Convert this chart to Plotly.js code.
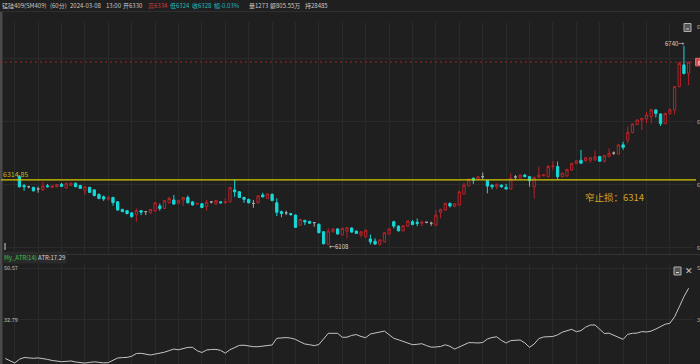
<!DOCTYPE html>
<html><head><meta charset="utf-8">
<script src="https://cdn.plot.ly/plotly-3.0.1.min.js"></script>
<style>html,body{margin:0;padding:0;background:#1f1f1f;overflow:hidden}#chart{width:700px;height:364px}</style>
</head><body><div id="chart"></div>
<script>
// ---- data (60-min bars, index 0..143) ----
const openP = [
6325,6297,6293,6291,6286,6283,6296,6291,6293,6301,
6289,6297,6304,6297,6280,6291,6283,6269,6261,6254,
6259,6245,6221,6217,6210,6205,6217,6214,6210,6216,
6232,6224,6242,6251,6240,6251,6259,6245,6238,6239,
6230,6245,6238,6245,6242,6245,6283,6277,6259,6253,
6240,6242,6267,6256,6269,6242,6214,6210,6208,6203,
6171,6186,6183,6179,6174,6150,6110,6150,6159,6140,
6152,6162,6152,6140,6134,6127,6120,6109,6118,6143,
6182,6168,6153,6168,6182,6180,6177,6180,6177,6171,
6212,6219,6240,6230,6235,6270,6296,6320,6317,6325,
6312,6298,6293,6298,6291,6286,6324,6320,6330,6325,
6293,6323,6328,6325,6357,6357,6325,6327,6346,6367,
6377,6376,6377,6378,6389,6374,6389,6400,6397,6426,
6441,6465,6491,6505,6508,6516,6537,6524,6494,6526,
6537,6611,6680,6653];
const highP = [
6330,6302,6296,6293,6293,6309,6302,6298,6302,6305,
6306,6306,6306,6299,6295,6293,6285,6271,6265,6263,
6261,6247,6223,6219,6212,6224,6219,6216,6223,6245,
6240,6251,6261,6267,6251,6261,6265,6247,6242,6241,
6251,6246,6251,6247,6256,6293,6317,6279,6261,6255,
6251,6266,6274,6272,6271,6256,6217,6217,6210,6205,
6191,6188,6185,6181,6176,6152,6161,6161,6161,6163,
6165,6164,6154,6152,6157,6141,6129,6126,6149,6161,
6185,6170,6171,6186,6187,6192,6183,6182,6182,6219,
6223,6243,6243,6241,6279,6306,6319,6322,6327,6338,
6314,6300,6303,6300,6302,6336,6330,6332,6334,6327,
6325,6357,6333,6363,6375,6373,6338,6350,6369,6377,
6410,6387,6388,6408,6391,6394,6415,6405,6428,6436,
6484,6494,6507,6512,6531,6542,6539,6526,6528,6542,
6613,6690,6740,6690];
const lowP = [
6290,6280,6288,6278,6274,6280,6291,6289,6291,6292,
6287,6295,6292,6286,6267,6273,6262,6253,6248,6249,
6233,6217,6212,6205,6195,6182,6203,6203,6208,6214,
6217,6222,6240,6236,6238,6232,6240,6233,6236,6225,
6217,6240,6236,6240,6240,6243,6261,6257,6242,6240,
6226,6240,6259,6254,6247,6200,6196,6203,6200,6162,
6169,6171,6175,6166,6145,6110,6108,6148,6141,6138,
6129,6147,6143,6132,6132,6110,6109,6109,6116,6141,
6161,6151,6151,6166,6171,6168,6168,6177,6169,6169,
6193,6217,6227,6228,6233,6268,6294,6302,6315,6317,
6272,6285,6285,6290,6284,6284,6314,6318,6323,6293,
6256,6321,6326,6323,6346,6317,6323,6325,6344,6365,
6366,6372,6370,6376,6372,6370,6387,6394,6395,6410,
6431,6463,6489,6473,6494,6494,6513,6486,6492,6521,
6523,6609,6650,6616];
const closeP = [
6293,6293,6293,6280,6286,6295,6293,6296,6300,6294,
6304,6304,6293,6288,6293,6275,6265,6256,6254,6258,
6243,6219,6214,6208,6198,6217,6212,6214,6221,6242,
6224,6249,6256,6238,6249,6259,6242,6235,6240,6227,
6244,6245,6249,6242,6245,6291,6277,6259,6253,6242,
6240,6264,6261,6270,6249,6212,6208,6210,6205,6164,
6189,6181,6177,6179,6147,6112,6152,6159,6143,6161,
6163,6149,6145,6150,6155,6118,6111,6124,6147,6159,
6168,6153,6169,6184,6173,6177,6181,6180,6177,6203,
6221,6240,6232,6239,6277,6298,6317,6314,6325,6325,
6295,6293,6301,6293,6286,6320,6324,6330,6325,6312,
6323,6330,6331,6357,6359,6325,6336,6348,6367,6375,
6368,6385,6385,6388,6374,6392,6399,6400,6426,6418,
6465,6492,6505,6510,6521,6537,6526,6494,6526,6537,
6611,6685,6653,6689];
// My_ATR(14), starting 3 bars before the first visible candle
const atrStart = -3;
const atr = [
19.62,18.94,18.08,
19.35,19.96,19.83,19.69,19.83,19.69,19.32,18.94,18.77,18.53,
18.63,18.77,18.43,18.19,18.05,18.29,18.49,18.32,18.12,18.22,
18.87,19.79,19.93,20.00,20.38,21.33,21.40,21.16,20.82,21.13,
21.37,21.78,22.32,22.84,22.60,22.91,23.42,23.45,22.26,21.67,
22.53,22.70,22.74,22.39,21.44,22.63,23.49,24.10,24.17,23.80,
23.66,23.66,23.90,24.24,24.24,26.53,26.77,26.77,26.60,26.16,
25.33,24.58,24.34,24.03,24.41,26.19,28.24,28.24,28.24,26.87,
26.91,27.52,27.80,27.15,26.74,28.00,28.34,28.62,28.99,27.76,
26.53,26.02,25.54,24.92,24.34,24.48,24.68,24.03,23.49,23.56,
23.73,24.31,23.80,22.84,23.56,24.51,25.03,25.03,24.92,25.09,
26.29,26.80,27.04,25.81,24.92,25.74,25.95,25.95,24.96,23.45,
24.58,26.43,26.98,27.15,27.15,27.69,28.62,29.10,29.61,28.79,
29.16,30.36,31.08,31.08,29.47,28.17,28.28,27.52,27.01,26.16,
27.90,28.24,28.31,28.82,28.69,28.99,29.71,30.40,31.35,31.66,
33.88,37.27,40.76,43.63];
const stopLevel = 6314.85;
const stopText = '窄止损：6314';
const highMark = 6740, lowMark = 6108;
const priceTickVals = [6100, 6300, 6500, 6700];
// only the first glyph of the right-hand price scale is visible in the window
const priceLabelVals = [6800, 6500, 6300, 6100];
const atrTickVals = [32.79, 50.57];
const atrTickText = ['32.79', '50.57'];
const header = [
  ['锰硅409(SM409)', 0.5, 'n'], ['(60分)', 49, 'n'], ['2024-03-08', 69, 'n'], ['13:00', 105, 'n'],
  ['开6330', 122, 'n'], ['高6334', 147, 'r'], ['低6324', 169, 'c'], ['收6328', 191, 'c'],
  ['幅-0.03%', 213, 'c'], ['量1273', 248, 'n'], ['额805.55万', 269, 'n'], ['持28485', 304, 'n']
];

// ---- build ----
const W = 700, H = 364;
const BG = '#1f1f1f', GRID = '#2a2a2a';
const px = v => v / W, py = v => (H - v) / H;
const FONT = '"Noto Sans CJK SC", "Noto Sans", sans-serif';
const idx = closeP.map((_, i) => i);
function sub(cond) {
  const ii = idx.filter(cond);
  return {x: ii, open: ii.map(i => openP[i]), high: ii.map(i => highP[i]),
          low: ii.map(i => lowP[i]), close: ii.map(i => closeP[i])};
}
const UP = '#b8232a', DN = '#16d9d9', FLAT = '#a8a8a8';
function candle(d, incC, incF, decC, decF) {
  return Object.assign({type: 'candlestick', xaxis: 'x', yaxis: 'y', whiskerwidth: 0, hoverinfo: 'skip',
    increasing: {line: {color: incC, width: 1}, fillcolor: incF},
    decreasing: {line: {color: decC, width: 1}, fillcolor: decF}}, d);
}
const traces = [
  candle(sub(i => closeP[i] > openP[i]), UP, BG, UP, BG),
  candle(sub(i => closeP[i] < openP[i]), DN, DN, DN, DN),
  candle(sub(i => closeP[i] === openP[i]), FLAT, FLAT, FLAT, FLAT),
  {type: 'scatter', mode: 'lines', xaxis: 'x', yaxis: 'y2', hoverinfo: 'skip',
   x: atr.map((_, i) => i + atrStart), y: atr, line: {color: '#c4c4c4', width: 1}}
];
const xGrid = [];
for (let t = -1; t <= 145; t += 5) xGrid.push(t);

const lastClose = closeP[closeP.length - 1];
const ann = [];
const hc = {n: '#c8c8c8', r: '#d23c3c', c: '#1fbcbc'};
header.forEach(h => ann.push({xref: 'paper', yref: 'paper', x: px(h[1]), y: py(5.8), xanchor: 'left', yanchor: 'middle',
  text: h[0], showarrow: false, font: {family: FONT, size: 6, color: hc[h[2]]}, borderpad: 0}));
priceLabelVals.forEach(v => ann.push({xref: 'paper', yref: 'y', x: px(696.3), y: v, xanchor: 'left', yanchor: 'middle',
  text: String(v).charAt(0), showarrow: false, font: {family: FONT, size: 5.5, color: '#b8b8b8'}, borderpad: 0}));
ann.push({xref: 'paper', yref: 'y', x: px(697), y: lastClose, xanchor: 'left', yanchor: 'middle', text: String(lastClose).charAt(0),
  showarrow: false, font: {family: FONT, size: 5, color: '#ffffff'}, borderpad: 0});
ann.push({xref: 'paper', yref: 'y', x: px(1.5), y: stopLevel, xanchor: 'left', yanchor: 'bottom', yshift: 0,
  text: stopLevel.toFixed(2), showarrow: false, font: {family: FONT, size: 7, color: '#c8b820'}, borderpad: 0});
ann.push({xref: 'paper', yref: 'paper', x: px(583), y: py(197), xanchor: 'left', yanchor: 'middle', text: stopText,
  showarrow: false, font: {family: FONT, size: 9.5, color: '#d4a420'}});
ann.push({xref: 'x', yref: 'y', x: highP.indexOf(highMark), y: highMark, xanchor: 'right', yanchor: 'middle', xshift: 1, yshift: 2,
  text: String(highMark) + '→', showarrow: false, font: {family: FONT, size: 6, color: '#d8d8d8'}, borderpad: 0});
ann.push({xref: 'x', yref: 'y', x: lowP.indexOf(lowMark), y: lowMark, xanchor: 'left', yanchor: 'middle', xshift: 0, yshift: -2,
  text: '←' + String(lowMark), showarrow: false, font: {family: FONT, size: 6, color: '#d8d8d8'}, borderpad: 0});
atrTickVals.forEach((v, k) => {
  ann.push({xref: 'paper', yref: 'y2', x: px(3), y: v, xanchor: 'left', yanchor: 'middle', text: atrTickText[k],
    showarrow: false, font: {family: FONT, size: 5.5, color: '#c0c0c0'}, borderpad: 0});
  ann.push({xref: 'paper', yref: 'y2', x: px(696.3), y: v, xanchor: 'left', yanchor: 'middle', text: atrTickText[k].charAt(0),
    showarrow: false, font: {family: FONT, size: 5.5, color: '#b8b8b8'}, borderpad: 0});
});
ann.push({xref: 'paper', yref: 'paper', x: px(2), y: py(257), xanchor: 'left', yanchor: 'middle',
  text: '<span style="color:#3cc04c">My_ATR(14)</span> ATR:17.29', showarrow: false, bgcolor: '#2a2a2a',
  font: {family: FONT, size: 6, color: '#d0d0d0'}, borderpad: 1});
ann.push({xref: 'paper', yref: 'paper', x: px(689), y: py(271), xanchor: 'center', yanchor: 'middle', text: '✕',
  showarrow: false, font: {family: '"DejaVu Sans", sans-serif', size: 9, color: '#c8c8c8'}, borderpad: 0});

function docIcon(x0, y0) {
  return [{type: 'rect', xref: 'paper', yref: 'paper', x0: px(x0), x1: px(x0 + 7), y0: py(y0), y1: py(y0 + 8),
    line: {color: '#b0b0b0', width: 1}, fillcolor: '#555555'},
    {type: 'line', xref: 'paper', yref: 'paper', x0: px(x0 + 2), x1: px(x0 + 5), y0: py(y0 + 5.5), y1: py(y0 + 5.5),
    line: {color: '#d0d0d0', width: 1}}];
}
const shapes = [
  {type: 'line', xref: 'paper', yref: 'paper', x0: 0, x1: 1, y0: py(11.5), y1: py(11.5), line: {color: '#2f2f2f', width: 1}},
  {type: 'line', xref: 'paper', yref: 'paper', x0: 0, x1: 1, y0: py(254.5), y1: py(254.5), line: {color: '#353535', width: 1}},
  {type: 'rect', xref: 'paper', yref: 'paper', x0: 0, x1: px(2.5), y0: 0, y1: py(12), line: {width: 0}, fillcolor: '#4a4a4a'},
  {type: 'rect', xref: 'paper', yref: 'paper', x0: px(4), x1: px(6), y0: py(250), y1: py(243), line: {width: 0}, fillcolor: '#777777'},
  {type: 'line', xref: 'paper', yref: 'y', x0: 0, x1: px(694), y0: lastClose, y1: lastClose,
   line: {color: '#a02424', width: 1, dash: '2px,3px'}},
  {type: 'rect', xref: 'paper', yref: 'y', x0: px(695.5), x1: 1, y0: lastClose - 12, y1: lastClose + 12,
   line: {color: '#e06a6a', width: 1}, fillcolor: '#d84848'},
  {type: 'line', xref: 'paper', yref: 'y', x0: px(1), x1: px(696), y0: stopLevel, y1: stopLevel,
   line: {color: '#d6ca00', width: 1.3}},
  ...docIcon(684, 23.5), ...docIcon(674, 267)
];

const layout = {
  width: W, height: H, margin: {l: 0, r: 0, t: 0, b: 0, pad: 0},
  paper_bgcolor: BG, plot_bgcolor: BG, showlegend: false, dragmode: false,
  font: {family: FONT, size: 6, color: '#c8c8c8'},
  xaxis: {domain: [0, px(694)], range: [-4.145, 144.15], tickmode: 'array', tickvals: xGrid, showticklabels: false,
          ticks: '', showgrid: true, gridcolor: GRID, gridwidth: 1, zeroline: false, showline: false,
          rangeslider: {visible: false}, fixedrange: true},
  yaxis: {domain: [py(254), py(22)], range: [6079.4, 6816.2], tickmode: 'array', tickvals: priceTickVals,
          showticklabels: false, ticks: '', gridcolor: GRID, zeroline: false, showline: false, fixedrange: true},
  yaxis2: {domain: [0, py(263)], range: [17.74, 52.28], tickmode: 'array', tickvals: atrTickVals, anchor: 'x',
          showticklabels: false, ticks: '', gridcolor: GRID, zeroline: false, showline: false, fixedrange: true},
  shapes: shapes, annotations: ann
};
Plotly.newPlot('chart', traces, layout, {staticPlot: true, displayModeBar: false});
</script></body></html>
